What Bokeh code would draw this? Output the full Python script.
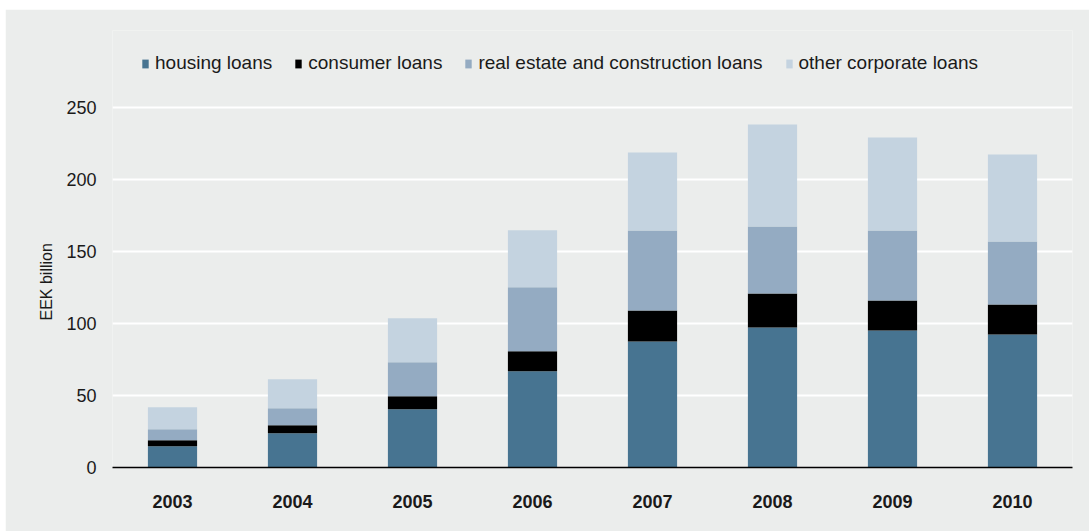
from bokeh.plotting import figure
from bokeh.models import Range1d, FactorRange, Legend, LegendItem, FixedTicker, Title
from bokeh.embed import file_html
from bokeh.resources import INLINE

years = ["2003", "2004", "2005", "2006", "2007", "2008", "2009", "2010"]
housing = [14.8, 23.8, 40.5, 66.9, 87.5, 97.2, 95.1, 92.4]
consumer = [4.2, 5.6, 9.0, 13.9, 21.5, 23.6, 20.9, 20.8]
real_estate = [7.6, 11.8, 23.6, 44.4, 55.6, 46.6, 48.6, 43.8]
other = [15.3, 20.1, 30.6, 39.6, 54.1, 70.8, 64.6, 60.4]
series = ["housing", "consumer", "real_estate", "other"]
labels = ["housing loans", "consumer loans", "real estate and construction loans", "other corporate loans"]
colors = ["#477491", "#000000", "#94abc2", "#c4d3e0"]
y_ticks = [0, 50, 100, 150, 200, 250]
y_label = "EEK billion"

BG = "#ebedec"
FONT = "Liberation Sans"
TXT = "#1a1a1a"

data = dict(years=years, housing=housing, consumer=consumer, real_estate=real_estate, other=other)

# frame extends above the 250 gridline to leave room for the legend
p = figure(x_range=FactorRange(factors=years), y_range=Range1d(0, 303.5),
           width=1084, height=522, output_backend="svg", toolbar_location=None,
           min_border_left=107, min_border_right=17, min_border_top=21, min_border_bottom=64,
           background_fill_color=BG, border_fill_color=BG, outline_line_color=None)
p.margin = (9, 0, 0, 5)

rs = p.vbar_stack(series, x="years", width=0.41, color=colors, line_color=None, source=data)

p.xgrid.grid_line_color = None
p.ygrid.grid_line_color = "white"
p.ygrid.grid_line_width = 2

p.yaxis.ticker = FixedTicker(ticks=y_ticks)
p.yaxis.axis_line_color = None
p.yaxis.major_tick_line_color = None
p.yaxis.minor_tick_line_color = None
p.yaxis.major_label_standoff = 10
p.yaxis.major_label_text_font = FONT
p.yaxis.major_label_text_font_size = "18px"
p.yaxis.major_label_text_color = TXT

# y-axis title, placed so it is centred on the 0-250 part of the axis
ytitle = Title(text=y_label, align="left", offset=147, standoff=18,
               text_font=FONT, text_font_size="16px", text_font_style="normal",
               text_color=TXT)
p.add_layout(ytitle, "left")

p.xaxis.axis_line_color = "black"
p.xaxis.axis_line_width = 1.5
p.xaxis.major_tick_line_color = None
p.xaxis.minor_tick_line_color = None
p.xaxis.major_label_standoff = 21
p.xaxis.major_label_text_font = FONT
p.xaxis.major_label_text_font_size = "18px"
p.xaxis.major_label_text_font_style = "bold"
p.xaxis.major_label_text_color = TXT

items = [LegendItem(label=l, renderers=[r]) for l, r in zip(labels, rs)]
legend = Legend(items=items, orientation="horizontal", location=(29, 393),
                background_fill_alpha=0, border_line_color=None,
                padding=0, margin=0, spacing=22, label_standoff=6,
                glyph_width=8, glyph_height=11,
                label_text_font=FONT, label_text_font_size="19px", label_text_color=TXT)
p.add_layout(legend, "center")

open("out.html", "w").write(file_html(p, INLINE))
